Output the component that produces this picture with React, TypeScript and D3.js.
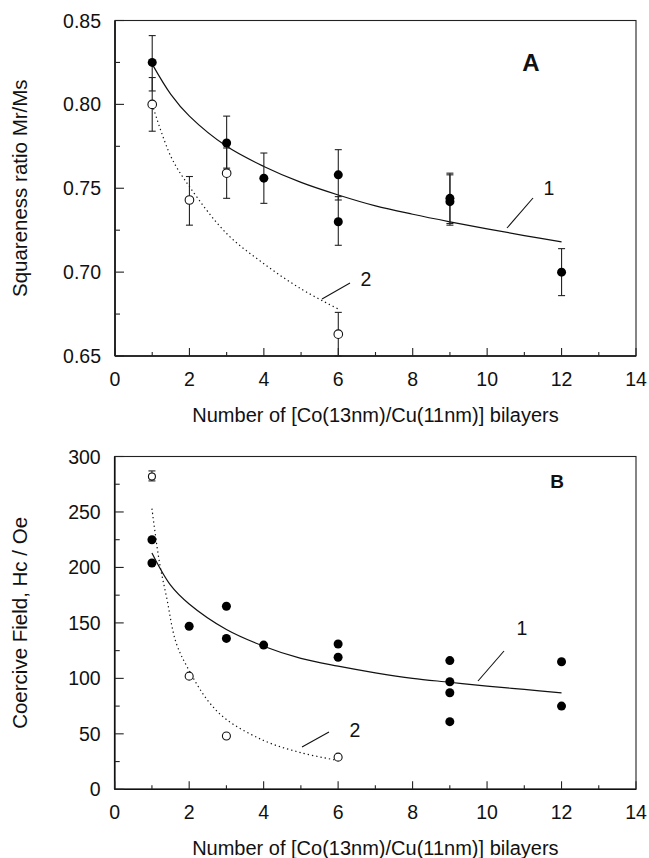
import React from "react";
import * as d3 from "d3";

// ---------- shared ----------
const xTicksMajor = [0, 2, 4, 6, 8, 10, 12, 14];
const xTicksMinor = [1, 3, 5, 7, 9, 11, 13];
const xTitle = "Number of [Co(13nm)/Cu(11nm)] bilayers";

// ---------- Panel A ----------
const aYTicks = [0.65, 0.7, 0.75, 0.8, 0.85];
const aYMinor = [0.675, 0.725, 0.775, 0.825];
const aYTitle = "Squareness ratio Mr/Ms";
const aFilledX = [1, 3, 4, 6, 6, 9, 9, 12];
const aFilledY = [0.825, 0.777, 0.756, 0.758, 0.73, 0.744, 0.742, 0.7];
const aFilledLo = [0.808, 0.762, 0.741, 0.743, 0.716, 0.729, 0.728, 0.686];
const aFilledHi = [0.841, 0.793, 0.771, 0.773, 0.745, 0.759, 0.758, 0.714];
const aOpenX = [1, 2, 3, 6];
const aOpenY = [0.8, 0.743, 0.759, 0.663];
const aOpenLo = [0.784, 0.728, 0.744, 0.65];
const aOpenHi = [0.816, 0.757, 0.774, 0.676];
const aFit1X = [1, 1.5, 2, 3, 4, 5, 6, 7, 8, 9, 10, 11, 12];
const aFit1Y = [0.824, 0.806, 0.793, 0.775, 0.763, 0.7535, 0.746, 0.7395, 0.7345, 0.73, 0.7258, 0.7218, 0.718];
const aFit2X = [1, 1.5, 2, 3, 4, 5, 6];
const aFit2Y = [0.8, 0.769, 0.751, 0.723, 0.705, 0.69, 0.678];

// ---------- Panel B ----------
const bYTicks = [0, 50, 100, 150, 200, 250, 300];
const bYMinor = [25, 75, 125, 175, 225, 275];
const bYTitle = "Coercive Field, Hc / Oe";
const bFilledX = [1, 1, 2, 3, 3, 4, 6, 6, 9, 9, 9, 9, 12, 12];
const bFilledY = [225, 204, 147, 165, 136, 130, 131, 119, 116, 97, 87, 61, 115, 75];
const bOpenX = [1, 2, 3, 6];
const bOpenY = [282, 102, 48, 29];
const bOpenErrX = [1];
const bOpenErrLo = [278];
const bOpenErrHi = [287];
const bFit1X = [1, 1.5, 2, 3, 4, 5, 6, 7, 8, 9, 10, 11, 12];
const bFit1Y = [213, 184, 167, 144, 129, 118, 111, 105, 100, 96.5, 93, 90, 87];
const bFit2X = [1, 1.2, 1.4, 1.65, 2, 2.5, 3, 4, 5, 6];
const bFit2Y = [253, 205, 172, 132, 107, 80, 63, 44, 33, 26];

const FONT = "'Liberation Sans', Arial, Helvetica, sans-serif";
const INK = "#111";

type PanelProps = {
  left: number; right: number; top: number; bottom: number;
  yDomain: [number, number];
  yTicks: number[]; yMinor: number[]; yFmt: (v: number) => string;
  yTitle: string;
  filledX: number[]; filledY: number[]; filledLo?: number[]; filledHi?: number[];
  openX: number[]; openY: number[];
  openErrX: number[]; openLo: number[]; openHi: number[];
  fit1X: number[]; fit1Y: number[]; fit2X: number[]; fit2Y: number[];
  letter: string; letterPos: [number, number]; letterSize: number;
  lab1: [number, number]; lead1: [number, number, number, number];
  lab2: [number, number]; lead2: [number, number, number, number];
  openR: number[];
};

function Panel(p: PanelProps) {
  const x = d3.scaleLinear().domain([0, 14]).range([p.left, p.right]);
  const y = d3.scaleLinear().domain(p.yDomain).range([p.bottom, p.top]);
  const line = d3.line<[number, number]>().x((d) => x(d[0])).y((d) => y(d[1])).curve(d3.curveCatmullRom.alpha(0.5));
  const fit1 = line(p.fit1X.map((v, i) => [v, p.fit1Y[i]] as [number, number])) || "";
  const fit2 = line(p.fit2X.map((v, i) => [v, p.fit2Y[i]] as [number, number])) || "";
  const capW = 3.5;
  const midY = (p.top + p.bottom) / 2;
  return (
    <g fontFamily={FONT} fill={INK}>
      {/* frame */}
      <rect x={p.left} y={p.top} width={p.right - p.left} height={p.bottom - p.top} fill="none" stroke="#222" strokeWidth={1.1} />
      <line x1={p.left} x2={p.left} y1={p.top} y2={p.bottom} stroke="#111" strokeWidth={1.6} />
      <line x1={p.left} x2={p.right} y1={p.bottom} y2={p.bottom} stroke="#111" strokeWidth={1.6} />
      {/* y ticks */}
      {p.yTicks.map((t) => (
        <g key={"yt" + t}>
          <line x1={p.left} x2={p.left + 9} y1={y(t)} y2={y(t)} stroke="#222" strokeWidth={1.1} />
          <text x={p.left - 14} y={y(t)} dy="0.36em" textAnchor="end" fontSize={19.5}>{p.yFmt(t)}</text>
        </g>
      ))}
      {p.yMinor.map((t) => (
        <line key={"ym" + t} x1={p.left} x2={p.left + 5} y1={y(t)} y2={y(t)} stroke="#222" strokeWidth={1.1} />
      ))}
      {/* x ticks */}
      {xTicksMajor.map((t) => (
        <g key={"xt" + t}>
          <line x1={x(t)} x2={x(t)} y1={p.bottom} y2={p.bottom - 8} stroke="#222" strokeWidth={1.1} />
          <text x={x(t)} y={p.bottom + 30} textAnchor="middle" fontSize={19.5}>{t}</text>
        </g>
      ))}
      {xTicksMinor.map((t) => (
        <line key={"xm" + t} x1={x(t)} x2={x(t)} y1={p.bottom} y2={p.bottom - 4} stroke="#222" strokeWidth={1.1} />
      ))}
      {/* titles */}
      <text x={(p.left + p.right) / 2} y={p.bottom + 66} textAnchor="middle" fontSize={20}>{xTitle}</text>
      <text transform={`translate(27,${midY}) rotate(-90)`} textAnchor="middle" fontSize={20.5}>{p.yTitle}</text>
      {/* fits */}
      <path d={fit1} fill="none" stroke="#111" strokeWidth={1.2} />
      <path d={fit2} fill="none" stroke="#111" strokeWidth={1.2} strokeDasharray="1.3 3" />
      {/* error bars */}
      {p.filledLo && p.filledHi && p.filledX.map((v, i) => (
        <g key={"fe" + i} stroke="#222" strokeWidth={1.1}>
          <line x1={x(v)} x2={x(v)} y1={y(p.filledLo![i])} y2={y(p.filledHi![i])} />
          <line x1={x(v) - capW} x2={x(v) + capW} y1={y(p.filledLo![i])} y2={y(p.filledLo![i])} />
          <line x1={x(v) - capW} x2={x(v) + capW} y1={y(p.filledHi![i])} y2={y(p.filledHi![i])} />
        </g>
      ))}
      {p.openErrX.map((v, i) => (
        <g key={"oe" + i} stroke="#222" strokeWidth={1.1}>
          <line x1={x(v)} x2={x(v)} y1={y(p.openLo[i])} y2={y(p.openHi[i])} />
          <line x1={x(v) - capW} x2={x(v) + capW} y1={y(p.openLo[i])} y2={y(p.openLo[i])} />
          <line x1={x(v) - capW} x2={x(v) + capW} y1={y(p.openHi[i])} y2={y(p.openHi[i])} />
        </g>
      ))}
      {/* markers */}
      {p.filledX.map((v, i) => (
        <circle key={"f" + i} cx={x(v)} cy={y(p.filledY[i])} r={4.5} fill="#000" />
      ))}
      {p.openX.map((v, i) => (
        <circle key={"o" + i} cx={x(v)} cy={y(p.openY[i])} r={p.openR[i]} fill="#fff" stroke="#111" strokeWidth={1.1} />
      ))}
      {/* labels */}
      <text x={p.letterPos[0]} y={p.letterPos[1]} textAnchor="middle" fontSize={p.letterSize} fontWeight="bold">{p.letter}</text>
      <text x={p.lab1[0]} y={p.lab1[1]} dy="0.36em" textAnchor="middle" fontSize={19.5}>1</text>
      <line x1={p.lead1[0]} y1={p.lead1[1]} x2={p.lead1[2]} y2={p.lead1[3]} stroke="#111" strokeWidth={1.1} />
      <text x={p.lab2[0]} y={p.lab2[1]} dy="0.36em" textAnchor="middle" fontSize={19.5}>2</text>
      <line x1={p.lead2[0]} y1={p.lead2[1]} x2={p.lead2[2]} y2={p.lead2[3]} stroke="#111" strokeWidth={1.1} />
    </g>
  );
}

export default function App() {
  return (
    <svg width={649} height={858} style={{ position: "absolute", left: 0, top: 0, background: "#fff" }}>
      <rect x={0} y={0} width={649} height={858} fill="#fff" />
      <Panel
        left={115} right={636} top={20.5} bottom={356}
        yDomain={[0.65, 0.85]} yTicks={aYTicks} yMinor={aYMinor} yFmt={d3.format(".2f")}
        yTitle={aYTitle}
        filledX={aFilledX} filledY={aFilledY} filledLo={aFilledLo} filledHi={aFilledHi}
        openX={aOpenX} openY={aOpenY} openErrX={aOpenX} openLo={aOpenLo} openHi={aOpenHi}
        fit1X={aFit1X} fit1Y={aFit1Y} fit2X={aFit2X} fit2Y={aFit2Y}
        letter="A" letterPos={[531, 70.7]} letterSize={24}
        lab1={[549, 188]} lead1={[533, 198, 507, 228]}
        lab2={[366, 279]} lead2={[350, 283, 322, 299]}
        openR={[4.3, 4.3, 4.3, 4.3]}
      />
      <Panel
        left={114.7} right={636} top={456.5} bottom={789.3}
        yDomain={[0, 300]} yTicks={bYTicks} yMinor={bYMinor} yFmt={d3.format("d")}
        yTitle={bYTitle}
        filledX={bFilledX} filledY={bFilledY}
        openX={bOpenX} openY={bOpenY} openErrX={bOpenErrX} openLo={bOpenErrLo} openHi={bOpenErrHi}
        fit1X={bFit1X} fit1Y={bFit1Y} fit2X={bFit2X} fit2Y={bFit2Y}
        letter="B" letterPos={[557, 488]} letterSize={19}
        lab1={[522, 628]} lead1={[504, 651, 478, 681]}
        lab2={[355, 730]} lead2={[329, 732, 302, 747]}
        openR={[3.5, 4, 4, 4]}
      />
    </svg>
  );
}
